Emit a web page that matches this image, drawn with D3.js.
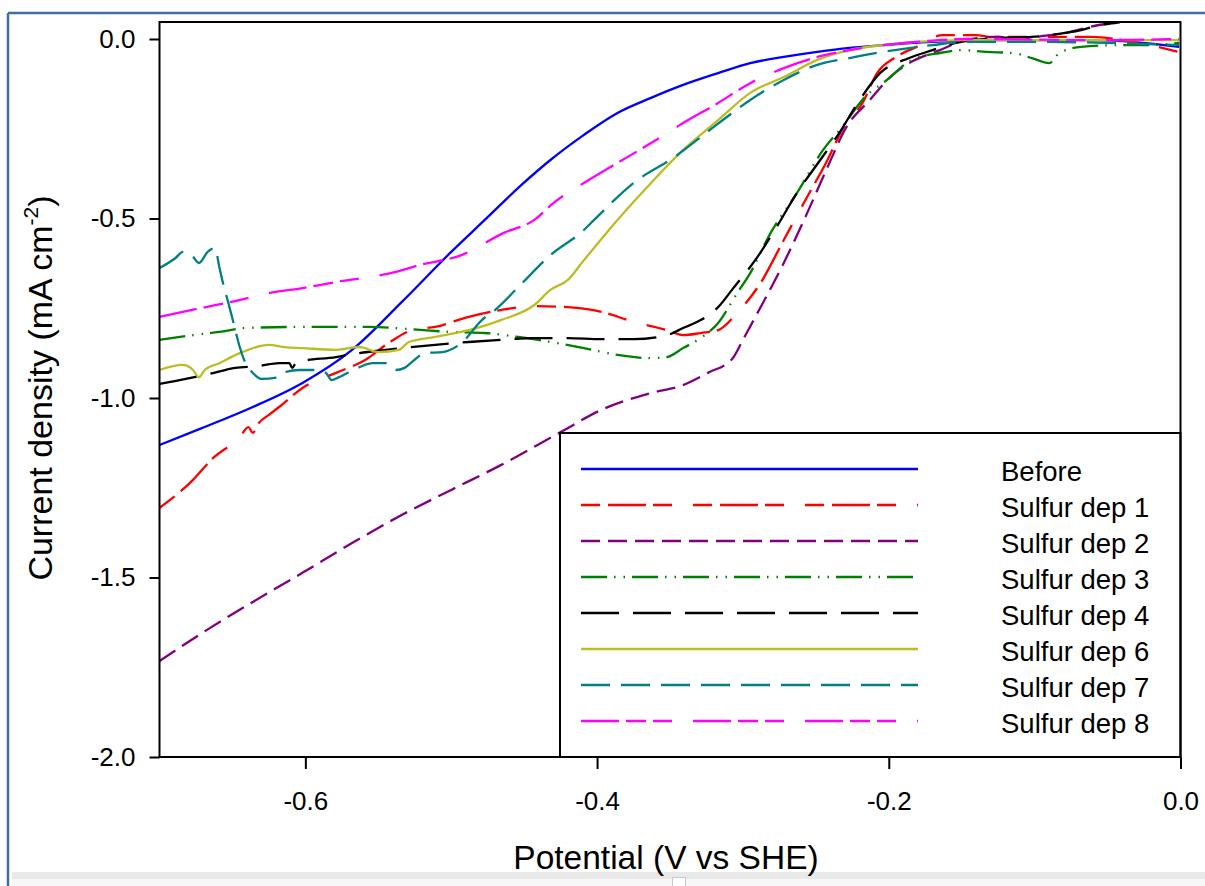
<!DOCTYPE html>
<html>
<head>
<meta charset="utf-8">
<script src="https://cdn.jsdelivr.net/npm/d3@7"></script>
<style>
  html, body { margin: 0; padding: 0; background: #ffffff; }
  svg { display: block; }
  text { font-family: Arial, "Liberation Sans", sans-serif; fill: #000; }
</style>
</head>
<body>
<svg id="chart" width="1205" height="886"></svg>
<script>
// ---------------- DATA ----------------
const seriesNames = ["Before", "Sulfur dep 1", "Sulfur dep 2", "Sulfur dep 3", "Sulfur dep 4", "Sulfur dep 6", "Sulfur dep 7", "Sulfur dep 8"];

const xTicks = [-0.6, -0.4, -0.2, 0.0];
const yTicks = [0.0, -0.5, -1.0, -1.5, -2.0];

// [potential (V vs SHE), current density (mA cm^-2)]
const before = [
  [-0.700,-1.131],[-0.671,-1.084],[-0.636,-1.025],[-0.602,-0.958],[-0.568,-0.866],[-0.534,-0.733],
  [-0.500,-0.593],[-0.477,-0.504],[-0.452,-0.407],[-0.432,-0.337],[-0.409,-0.267],[-0.386,-0.206],
  [-0.363,-0.164],[-0.341,-0.128],[-0.317,-0.095],[-0.295,-0.067],[-0.272,-0.050],[-0.249,-0.036],
  [-0.227,-0.025],[-0.204,-0.017],[-0.170,-0.008],[-0.124,-0.003],[-0.056,-0.003],[-0.001,-0.022]
];
const dep1 = [
  [-0.700,-1.306],[-0.677,-1.228],[-0.664,-1.170],[-0.645,-1.109],[-0.639,-1.081],[-0.636,-1.097],
  [-0.632,-1.070],[-0.625,-1.047],[-0.618,-1.025],[-0.602,-0.972],[-0.579,-0.930],[-0.559,-0.894],
  [-0.543,-0.847],[-0.527,-0.811],[-0.511,-0.802],[-0.488,-0.774],[-0.466,-0.755],[-0.443,-0.744],
  [-0.420,-0.747],[-0.397,-0.760],[-0.375,-0.788],[-0.352,-0.811],[-0.341,-0.825],[-0.329,-0.819],
  [-0.317,-0.811],[-0.304,-0.763],[-0.288,-0.680],[-0.272,-0.560],[-0.256,-0.440],[-0.242,-0.337],
  [-0.232,-0.253],[-0.218,-0.178],[-0.208,-0.095],[-0.195,-0.050],[-0.181,-0.022],[-0.163,0.011],
  [-0.140,0.011],[-0.131,0.006],[-0.061,0.006],[-0.033,-0.008],[-0.001,-0.036]
];
const dep2 = [
  [-0.700,-1.733],[-0.671,-1.655],[-0.636,-1.568],[-0.602,-1.487],[-0.568,-1.404],[-0.534,-1.326],
  [-0.500,-1.256],[-0.466,-1.187],[-0.425,-1.095],[-0.397,-1.033],[-0.363,-0.986],[-0.341,-0.964],
  [-0.324,-0.930],[-0.307,-0.889],[-0.300,-0.838],[-0.290,-0.763],[-0.272,-0.624],[-0.256,-0.485],
  [-0.242,-0.357],[-0.229,-0.245],[-0.213,-0.170],[-0.199,-0.106],[-0.186,-0.067],[-0.165,-0.031],
  [-0.147,-0.003],[-0.124,0.006],[-0.113,-0.008],[-0.102,0.003],[-0.079,0.017],[-0.056,0.039],
  [-0.042,0.047],[-0.029,0.070]
];
const dep3 = [
  [-0.700,-0.838],[-0.677,-0.825],[-0.659,-0.816],[-0.641,-0.805],[-0.602,-0.802],[-0.556,-0.802],
  [-0.529,-0.808],[-0.500,-0.816],[-0.477,-0.819],[-0.454,-0.830],[-0.432,-0.844],[-0.409,-0.861],
  [-0.386,-0.880],[-0.363,-0.889],[-0.352,-0.886],[-0.341,-0.861],[-0.329,-0.833],[-0.317,-0.791],
  [-0.304,-0.708],[-0.295,-0.652],[-0.281,-0.540],[-0.263,-0.429],[-0.245,-0.309],[-0.232,-0.245],
  [-0.215,-0.156],[-0.204,-0.123],[-0.184,-0.058],[-0.165,-0.039],[-0.150,-0.031],[-0.133,-0.036],
  [-0.115,-0.039],[-0.102,-0.053],[-0.090,-0.067],[-0.083,-0.039],[-0.068,-0.022],[-0.044,-0.017],
  [-0.022,-0.017],[-0.001,-0.011]
];
const dep4 = [
  [-0.700,-0.961],[-0.682,-0.947],[-0.666,-0.933],[-0.648,-0.916],[-0.632,-0.911],[-0.618,-0.903],
  [-0.611,-0.903],[-0.609,-0.916],[-0.606,-0.900],[-0.579,-0.886],[-0.563,-0.875],[-0.545,-0.866],
  [-0.534,-0.861],[-0.511,-0.852],[-0.488,-0.844],[-0.466,-0.838],[-0.443,-0.833],[-0.420,-0.833],
  [-0.397,-0.836],[-0.375,-0.836],[-0.352,-0.825],[-0.341,-0.805],[-0.329,-0.783],[-0.317,-0.747],
  [-0.307,-0.696],[-0.290,-0.607],[-0.277,-0.524],[-0.263,-0.429],[-0.247,-0.337],[-0.234,-0.262],
  [-0.220,-0.170],[-0.206,-0.095],[-0.186,-0.053],[-0.170,-0.031],[-0.154,-0.011],[-0.124,0.003],
  [-0.102,0.006],[-0.079,0.017],[-0.068,0.025],[-0.056,0.039],[-0.042,0.047],[-0.029,0.070]
];
const dep6 = [
  [-0.700,-0.922],[-0.684,-0.908],[-0.677,-0.922],[-0.673,-0.942],[-0.669,-0.922],[-0.659,-0.903],
  [-0.645,-0.875],[-0.625,-0.852],[-0.614,-0.858],[-0.602,-0.861],[-0.579,-0.866],[-0.563,-0.858],
  [-0.550,-0.872],[-0.536,-0.866],[-0.529,-0.844],[-0.511,-0.830],[-0.488,-0.811],[-0.466,-0.783],
  [-0.443,-0.741],[-0.432,-0.699],[-0.420,-0.671],[-0.409,-0.616],[-0.386,-0.504],[-0.363,-0.401],
  [-0.341,-0.309],[-0.317,-0.226],[-0.295,-0.150],[-0.272,-0.106],[-0.249,-0.058],[-0.227,-0.031],
  [-0.204,-0.017],[-0.181,-0.008],[-0.147,-0.003],[-0.102,-0.003],[-0.001,-0.003]
];
const dep7 = [
  [-0.700,-0.638],[-0.689,-0.610],[-0.684,-0.593],[-0.677,-0.607],[-0.673,-0.624],[-0.667,-0.593],
  [-0.662,-0.582],[-0.659,-0.635],[-0.657,-0.671],[-0.652,-0.747],[-0.648,-0.811],[-0.645,-0.858],
  [-0.641,-0.903],[-0.636,-0.930],[-0.630,-0.947],[-0.618,-0.942],[-0.614,-0.928],[-0.604,-0.922],
  [-0.593,-0.922],[-0.586,-0.930],[-0.582,-0.950],[-0.577,-0.942],[-0.563,-0.914],[-0.554,-0.903],
  [-0.545,-0.903],[-0.538,-0.922],[-0.532,-0.916],[-0.527,-0.900],[-0.518,-0.875],[-0.506,-0.872],
  [-0.493,-0.847],[-0.479,-0.783],[-0.470,-0.755],[-0.454,-0.691],[-0.432,-0.602],[-0.409,-0.532],
  [-0.402,-0.504],[-0.375,-0.401],[-0.347,-0.329],[-0.320,-0.245],[-0.295,-0.170],[-0.272,-0.114],
  [-0.249,-0.072],[-0.227,-0.053],[-0.204,-0.036],[-0.170,-0.017],[-0.147,-0.008],[-0.102,-0.008],
  [-0.001,-0.017]
];
const dep8 = [
  [-0.700,-0.774],[-0.671,-0.749],[-0.648,-0.730],[-0.625,-0.708],[-0.602,-0.694],[-0.579,-0.677],
  [-0.556,-0.663],[-0.538,-0.649],[-0.522,-0.630],[-0.493,-0.602],[-0.464,-0.540],[-0.443,-0.504],
  [-0.430,-0.457],[-0.409,-0.401],[-0.386,-0.345],[-0.363,-0.290],[-0.341,-0.234],[-0.317,-0.178],
  [-0.295,-0.123],[-0.272,-0.081],[-0.249,-0.050],[-0.227,-0.031],[-0.204,-0.017],[-0.181,-0.008],
  [-0.147,0.000],[-0.056,-0.003],[-0.001,0.000]
];
const seriesData = [before, dep1, dep2, dep3, dep4, dep6, dep7, dep8];

// ---------------- STYLES ----------------
const seriesStyle = [
  { color: "#0000ff", dash: null },
  { color: "#ff0000", dash: "19,8,38,7,19,21" },
  { color: "#800080", dash: "19,8" },
  { color: "#008000", dash: "26,7,1.5,8,1.5,7" },
  { color: "#000000", dash: "38,14" },
  { color: "#bcbc24", dash: null },
  { color: "#008080", dash: "29,11" },
  { color: "#ff00ff", dash: "38,7,20,7,19,21" }
];

// ---------------- LAYOUT ----------------
const svg = d3.select("#chart");
const L = 159.5, R = 1180.5, T = 22, B = 757;

const x = d3.scaleLinear().domain([-0.7, 0.0]).range([L, R]);
const y = d3.scaleLinear().domain([-2.0, 0.0]).range([B, 39]);

// outer frame (document border)
svg.append("line").attr("x1", 8).attr("x2", 1205).attr("y1", 13).attr("y2", 13)
  .attr("stroke", "#41709e").attr("stroke-width", 2.5);
svg.append("line").attr("x1", 8).attr("x2", 8).attr("y1", 13).attr("y2", 886)
  .attr("stroke", "#41709e").attr("stroke-width", 2.5);
svg.append("rect").attr("x", 12).attr("y", 872).attr("width", 1193).attr("height", 7)
  .attr("fill", "#e9e9e9");
svg.append("rect").attr("x", 12).attr("y", 879).attr("width", 1193).attr("height", 7)
  .attr("fill", "#f7f7f7");
svg.append("rect").attr("x", 672.5).attr("y", 877.5).attr("width", 13).attr("height", 9)
  .attr("fill", "#ffffff").attr("stroke", "#c8c8c8");

// clip
svg.append("defs").append("clipPath").attr("id", "plotclip")
  .append("rect").attr("x", L).attr("y", T).attr("width", R - L).attr("height", B - T);

// lines
const line = d3.line().x(d => x(d[0])).y(d => y(d[1])).curve(d3.curveMonotoneX);
const gLines = svg.append("g").attr("clip-path", "url(#plotclip)");
seriesData.forEach((data, i) => {
  gLines.append("path")
    .datum(data)
    .attr("d", line)
    .attr("fill", "none")
    .attr("stroke", seriesStyle[i].color)
    .attr("stroke-width", 2.3)
    .attr("stroke-linejoin", "round")
    .attr("stroke-dasharray", seriesStyle[i].dash);
});

// axes
const fmt = d => (Math.abs(d) < 1e-9 ? "0.0" : d.toFixed(1));
const yAxis = svg.append("g").attr("transform", `translate(${L},0)`)
  .call(d3.axisLeft(y).tickValues(yTicks).tickFormat(fmt).tickSize(10).tickSizeOuter(0).tickPadding(14));
const xAxis = svg.append("g").attr("transform", `translate(0,${B})`)
  .call(d3.axisBottom(x).tickValues(xTicks).tickFormat(fmt).tickSize(12).tickSizeOuter(0).tickPadding(23));
[yAxis, xAxis].forEach(g => {
  g.select(".domain").remove();
  g.selectAll(".tick line").attr("stroke", "#000").attr("stroke-width", 2);
  g.selectAll(".tick text").attr("font-size", 26).attr("font-family", "Arial, 'Liberation Sans', sans-serif").attr("fill", "#000");
});

// legend box
const lg = svg.append("g");
lg.append("rect").attr("x", 560).attr("y", 433).attr("width", R - 560).attr("height", B - 433)
  .attr("fill", "#ffffff").attr("stroke", "#000").attr("stroke-width", 2);
const legRow = d3.scalePoint().domain(seriesNames).range([469, 721]);
seriesNames.forEach((name, i) => {
  const yy = legRow(name);
  lg.append("line").attr("x1", 581).attr("x2", 918).attr("y1", yy).attr("y2", yy)
    .attr("stroke", seriesStyle[i].color).attr("stroke-width", 2.3)
    .attr("stroke-dasharray", seriesStyle[i].dash);
  lg.append("text").attr("x", 1001).attr("y", yy + 11.5).attr("font-size", 27.5).text(name);
});

// plot frame
svg.append("rect").attr("x", L).attr("y", T).attr("width", R - L).attr("height", B - T)
  .attr("fill", "none").attr("stroke", "#000").attr("stroke-width", 2);

// axis titles
svg.append("text").attr("x", 666).attr("y", 869).attr("text-anchor", "middle")
  .attr("font-size", 33.5).text("Potential (V vs SHE)");
const yt = svg.append("text").attr("transform", "translate(52,388) rotate(-90)")
  .attr("text-anchor", "middle").attr("font-size", 34);
yt.append("tspan").text("Current density (mA cm");
yt.append("tspan").attr("font-size", 21).attr("dy", -14).text("-2");
yt.append("tspan").attr("dy", 14).text(")");
</script>
</body>
</html>
